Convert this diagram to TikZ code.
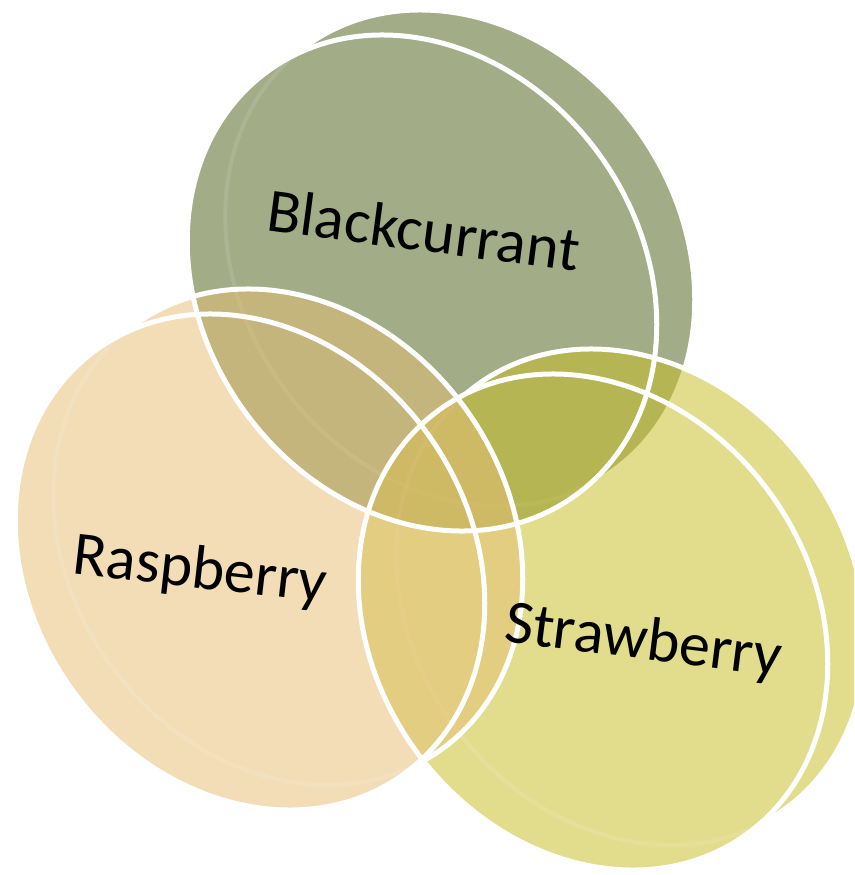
\documentclass[tikz,border=0pt]{standalone}
\usepackage{fontspec}
\setmainfont{Carlito}
\definecolor{bcC}{RGB}{76,97,24}
\definecolor{rbC}{RGB}{230,190,117}
\definecolor{sbC}{RGB}{199,190,36}
\begin{document}
\begin{tikzpicture}[x=1pt,y=-1pt,
  disc/.style={x radius=262pt, y radius=219pt, rotate=-54},
  rim/.style={draw=white, line width=5pt},
  faintrim/.style={draw=white, line width=4pt, draw opacity=0.1},
  txt/.style={font=\fontsize{62}{70}\selectfont, text=black, anchor=base, inner sep=0pt}]
\useasboundingbox (0,0) rectangle (854,875);
\clip (0,0) rectangle (854,875);
% Blackcurrant
\fill[bcC, fill opacity=.52] (422,283) ellipse[disc] (460,258) ellipse[disc];
\begin{scope}[even odd rule]
  \clip (-20,-20) rectangle (900,900) (422,283) ellipse[disc];
  \draw[rim] (460,258) ellipse[disc];
\end{scope}
\begin{scope}
  \clip (422,283) ellipse[disc];
  \draw[faintrim] (460,258) ellipse[disc];
\end{scope}
% Strawberry
\fill[sbC, fill opacity=.52] (593,622) ellipse[disc] (631,597) ellipse[disc];
\begin{scope}[even odd rule]
  \clip (-20,-20) rectangle (900,900) (593,622) ellipse[disc];
  \draw[rim] (631,597) ellipse[disc];
\end{scope}
\begin{scope}
  \clip (593,622) ellipse[disc];
  \draw[faintrim] (631,597) ellipse[disc];
\end{scope}
% Raspberry
\fill[rbC, fill opacity=.52] (250,562) ellipse[disc] (288,537) ellipse[disc];
\begin{scope}[even odd rule]
  \clip (-20,-20) rectangle (900,900) (250,562) ellipse[disc];
  \draw[rim] (288,537) ellipse[disc];
\end{scope}
\begin{scope}
  \clip (250,562) ellipse[disc];
  \draw[faintrim] (288,537) ellipse[disc];
\end{scope}
% front rims
\draw[rim] (422,283) ellipse[disc];
\draw[rim] (593,622) ellipse[disc];
\draw[rim] (250,562) ellipse[disc];
% labels
\node[txt, rotate=-7.5] (bc) at (421,251) {Blackcurrant};
\node[txt, rotate=-6.5] (rb) at (198,588) {Raspberry};
\node[txt, rotate=-7.2] (sb) at (641,659) {Strawberry};
\end{tikzpicture}
\end{document}
